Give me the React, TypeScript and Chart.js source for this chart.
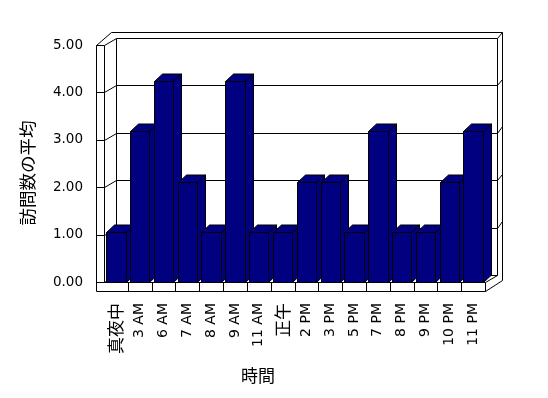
import React, { useEffect, useRef } from 'react';
import { Chart, registerables } from 'chart.js';

Chart.register(...registerables);

const categories = ['真夜中', '3 AM', '6 AM', '7 AM', '8 AM', '9 AM', '11 AM', '正午', '2 PM', '3 PM', '5 PM', '7 PM', '8 PM', '9 PM', '10 PM', '11 PM'];
const visitAverages = [1, 3, 4, 2, 1, 4, 1, 1, 2, 2, 1, 3, 1, 1, 2, 3];
const valueTicks = [0, 1, 2, 3, 4, 5];
const yTitle = '訪問数の平均';
const xTitle = '時間';

const NAVY = '#000080';
const LATIN = "'DejaVu Sans'";
const CJK = "'Noto Sans CJK JP'";

const px = (v: number) => Math.round(v) + 0.5;

const excel3d = {
  id: 'excel3d',
  beforeDatasetsDraw(chart: any) {
    const ctx = chart.ctx as CanvasRenderingContext2D;
    const ys = chart.scales.y;
    const xs = chart.scales.x;
    const L = xs.left, R = xs.right;
    const T = ys.getPixelForValue(valueTicks[valueTicks.length - 1]);
    const B = ys.getPixelForValue(valueTicks[0]);
    const dx = 11.5, dy = -7;
    const OL = L - 8;
    const BL = L + dx, BR = R + dx;
    const OT = T - 13.5;
    const OR = BR + 5.5;
    const FB = B + 9;
    const line = (pts: number[][]) => {
      ctx.beginPath();
      ctx.moveTo(px(pts[0][0]), px(pts[0][1]));
      for (let i = 1; i < pts.length; i++) ctx.lineTo(px(pts[i][0]), px(pts[i][1]));
      ctx.stroke();
    };
    ctx.save();
    ctx.strokeStyle = '#000';
    ctx.lineWidth = 1;
    // left wall front face
    line([[OL, FB], [OL, T], [L, T], [L, B]]);
    // outer top edge and right outer edge
    line([[OL, T], [L + 7, OT], [OR, OT], [OR, FB - 11]]);
    // inner top edge
    line([[L, T], [BL, T + dy], [BR, T + dy], [BR, B + dy]]);
    line([[BR, T + dy], [OR, OT]]);
    line([[BL, T + dy], [BL, B + dy], [BR, B + dy]]);
    // floor
    line([[L, B], [R, B], [R, FB], [OL, FB]]);
    line([[R, B], [BR, B + dy]]);
    line([[R, FB], [OR, FB - 11]]);
    // grid lines
    for (let i = 0; i < valueTicks.length - 1; i++) {
      const yf = ys.getPixelForValue(valueTicks[i]);
      line([[OL, yf], [L, yf], [BL, yf + dy]]);
      if (i > 0) line([[BL, yf + dy], [BR, yf + dy], [OR, yf + dy - 6.5]]);
    }
    // category separators on floor front
    for (let i = 1; i < categories.length; i++) {
      const xb = (xs.getPixelForValue(i - 1) + xs.getPixelForValue(i)) / 2;
      line([[xb, B], [xb, FB]]);
    }
    ctx.restore();
  },
  beforeDatasetDraw(chart: any, args: any) {
    const ctx = chart.ctx as CanvasRenderingContext2D;
    const ddx = 8, ddy = -7.5;
    const poly = (pts: number[][]) => {
      ctx.beginPath();
      ctx.moveTo(pts[0][0], pts[0][1]);
      for (let i = 1; i < pts.length; i++) ctx.lineTo(pts[i][0], pts[i][1]);
      ctx.closePath();
      ctx.fill();
      ctx.stroke();
    };
    ctx.save();
    ctx.fillStyle = NAVY;
    ctx.strokeStyle = '#000';
    ctx.lineWidth = 1;
    for (const el of args.meta.data) {
      const { x, y, base, width } = el.getProps(['x', 'y', 'base', 'width'], true);
      const xl = px(x - width / 2), xr = px(x + width / 2);
      const yt = px(y), yb = px(base);
      poly([[xr, yb], [xr, yt], [xr + ddx, yt + ddy], [xr + ddx, yb + ddy]]);
      poly([[xl, yt], [xl + ddx, yt + ddy], [xr + ddx, yt + ddy], [xr, yt]]);
      poly([[xl, yt], [xr, yt], [xr, yb], [xl, yb]]);
    }
    ctx.restore();
    return false;
  },
  afterDraw(chart: any) {
    const ctx = chart.ctx as CanvasRenderingContext2D;
    ctx.save();
    ctx.fillStyle = '#000';
    ctx.textAlign = 'center';
    ctx.textBaseline = 'middle';
    ctx.font = `17px ${CJK}`;
    ctx.fillText(xTitle, 258, 376);
    ctx.translate(27, 173);
    ctx.rotate(-Math.PI / 2);
    ctx.font = `17.5px ${CJK}`;
    ctx.fillText(yTitle, 0, 0);
    ctx.restore();
  },
};

export default function App() {
  const ref = useRef<HTMLCanvasElement | null>(null);
  useEffect(() => {
    if (!ref.current) return;
    const chart = new Chart(ref.current, {
      type: 'bar',
      data: {
        labels: categories,
        datasets: [
          {
            label: yTitle,
            data: visitAverages,
            yAxisID: 'yb',
            backgroundColor: NAVY,
            borderColor: '#000',
            borderWidth: 1,
            barPercentage: 0.815,
            categoryPercentage: 1,
          },
        ],
      },
      options: {
        responsive: false,
        animation: false,
        devicePixelRatio: 1,
        layout: { padding: { left: 0, top: 45, right: 63, bottom: 0 } },
        plugins: { legend: { display: false }, tooltip: { enabled: false } },
        scales: {
          x: {
            grid: { display: false, drawTicks: false },
            border: { display: false },
            ticks: {
              minRotation: 90,
              maxRotation: 90,
              autoSkip: false,
              padding: 21,
              color: '#000',
              font: (c: any) =>
                /[^\x00-\x7f]/.test(categories[c.index] || '')
                  ? { family: CJK, size: 17 }
                  : { family: LATIN, size: 14 },
            },
            afterFit: (s: any) => {
              s.height = 116;
            },
          },
          y: {
            position: 'left',
            min: valueTicks[0],
            max: valueTicks[valueTicks.length - 1],
            grid: { display: false, drawTicks: false },
            border: { display: false },
            afterBuildTicks: (s: any) => {
              s.ticks = valueTicks.map((v) => ({ value: v }));
            },
            ticks: {
              padding: 21,
              color: '#000',
              font: { family: LATIN, size: 13.5 },
              callback: (v: any) => Number(v).toFixed(2),
            },
            afterFit: (s: any) => {
              s.width = 104;
            },
          },
          yb: {
            display: false,
            min: 0,
            max: 4.72,
          },
        },
      },
      plugins: [excel3d],
    });
    return () => chart.destroy();
  }, []);
  return (
    <div style={{ position: 'absolute', left: 0, top: 0, width: 548, height: 398, background: '#fff' }}>
      <canvas ref={ref} width={548} height={398} style={{ display: 'block' }} />
    </div>
  );
}
